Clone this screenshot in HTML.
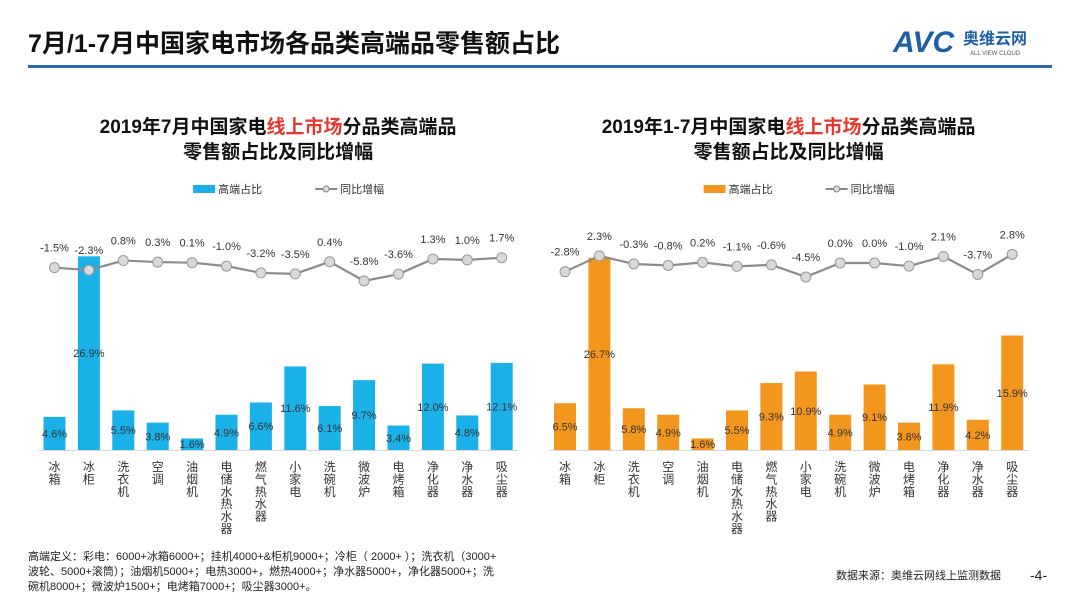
<!DOCTYPE html>
<html><head><meta charset="utf-8">
<style>
body{margin:0;width:1080px;height:608px;background:#fff;overflow:hidden;font-family:"Liberation Sans","Noto Sans CJK SC",sans-serif;}
svg text{font-family:"Liberation Sans","Noto Sans CJK SC",sans-serif;}
</style></head>
<body>
<svg id="s" width="1080" height="608" xmlns="http://www.w3.org/2000/svg">
<text x="28" y="52" font-size="25" font-weight="bold" fill="#111">7月/1-7月中国家电市场各品类高端品零售额占比</text>
<g>
<text x="893" y="52" font-size="30" font-weight="bold" font-style="italic" fill="#1f5fa8">AVC</text>
<text x="963" y="44" font-size="16" font-weight="bold" fill="#1f5fa8">奥维云网</text>
<text x="970" y="55" font-size="6" fill="#555">ALL VIEW CLOUD</text>
</g>
<rect x="28" y="65" width="1024" height="3" fill="#2a6aa8"/>
<g id="charts"></g>
<text x="28" y="560" font-size="11" fill="#222"><tspan x="28">高端定义：彩电：6000+冰箱6000+；挂机4000+&amp;柜机9000+；冷柜（ 2000+ ）；洗衣机（3000+</tspan><tspan x="28" dy="15">波轮、5000+滚筒）；油烟机5000+；电热3000+，燃热4000+；净水器5000+，净化器5000+；洗</tspan><tspan x="28" dy="15">碗机8000+；微波炉1500+；电烤箱7000+；吸尘器3000+。</tspan></text>
<text x="836" y="579" font-size="11" fill="#222">数据来源：奥维云网线上监测数据</text>
<text x="1030" y="580" font-size="14" fill="#222">-4-</text>
</svg>
<script>
const categories=["冰箱","冰柜","洗衣机","空调","油烟机","电储水热水器","燃气热水器","小家电","洗碗机","微波炉","电烤箱","净化器","净水器","吸尘器"];
const shareJul=[4.6,26.9,5.5,3.8,1.6,4.9,6.6,11.6,6.1,9.7,3.4,12.0,4.8,12.1];
const growthJul=[-1.5,-2.3,0.8,0.3,0.1,-1.0,-3.2,-3.5,0.4,-5.8,-3.6,1.3,1.0,1.7];
const shareYtd=[6.5,26.7,5.8,4.9,1.6,5.5,9.3,10.9,4.9,9.1,3.8,11.9,4.2,15.9];
const growthYtd=[-2.8,2.3,-0.3,-0.8,0.2,-1.1,-0.6,-4.5,0.0,0.0,-1.0,2.1,-3.7,2.8];
const NS="http://www.w3.org/2000/svg";
const root=document.getElementById('charts');
function mk(tag,attrs,parent,txt){const e=document.createElementNS(NS,tag);for(const k in attrs)e.setAttribute(k,attrs[k]);if(txt!==undefined)e.textContent=txt;(parent||root).appendChild(e);return e;}
function chart(x0,color,share,growth,title1,period,key){
  const g=mk('g',{});
  
  
  const step=34.4, base=450, k=7.2;
  const xs=i=>x0+i*step;
  const yBar=v=>base-v*k;
  const yLine=v=>263-v*3.1;
  const cx=x0+6.5*step;
  const t=mk('text',{x:cx,y:133,'font-size':19,'font-weight':'bold','text-anchor':'middle',fill:'#111'},g);
  
  
  mk('tspan',{},t,period+'中国家电');
  mk('tspan',{fill:'#e8372c'},t,'线上市场');
  mk('tspan',{},t,'分品类高端品');
  const t2=mk('text',{x:cx,y:158,'font-size':19,'font-weight':'bold','text-anchor':'middle',fill:'#111'},g,'零售额占比及同比增幅');
  
  
  const lg=mk('g',{},g);
  
  
  mk('rect',{x:cx-85,y:185,width:22,height:8,fill:color},lg);
  mk('text',{x:cx-60,y:193,'font-size':11,fill:'#333'},lg,'高端占比');
  mk('line',{x1:cx+37,y1:189,x2:cx+59,y2:189,stroke:'#888','stroke-width':2},lg);
  mk('circle',{cx:cx+48,cy:189,r:3,fill:'#ddd',stroke:'#888'},lg);
  mk('text',{x:cx+62,y:193,'font-size':11,fill:'#333'},lg,'同比增幅');
  mk('line',{x1:x0-16,y1:base+0.5,x2:xs(13)+17,y2:base+0.5,stroke:'#d9d9d9'},g);
  share.forEach((v,i)=>{
    const r=mk('rect',{x:xs(i)-11,y:yBar(v),width:22,height:base-yBar(v),fill:color},g);
    
    
    const l=mk('text',{x:xs(i),y:(yBar(v)+base)/2+4,'font-size':11,'text-anchor':'middle',fill:'#333'},g,v.toFixed(1)+'%');
    
    
    const c=mk('text',{x:xs(i),'font-size':12,'text-anchor':'middle',fill:'#333'},g);
    
    
    [...categories[i]].forEach((ch,j)=>mk('tspan',{x:xs(i),y:471+j*12.4},c,ch));
  });
  let d='';
  growth.forEach((v,i)=>{d+=(i?'L':'M')+xs(i)+','+yLine(v);});
  const p=mk('path',{d:d,fill:'none',stroke:'#8c8c8c','stroke-width':2.2},g);
  
  
  growth.forEach((v,i)=>{
    const c=mk('circle',{cx:xs(i),cy:yLine(v),r:5,fill:'#d9d9d9',stroke:'#999','stroke-width':1},g);
    
    
    const l=mk('text',{x:xs(i),y:yLine(v)-16,'font-size':11,'text-anchor':'middle',fill:'#333'},g,v.toFixed(1)+'%');
    
    
  });
}
chart(54.5,'#1ab0e8',shareJul,growthJul,'','2019年7月','july');
chart(565,'#f3961e',shareYtd,growthYtd,'','2019年1-7月','ytd');
</script>
</body></html>
